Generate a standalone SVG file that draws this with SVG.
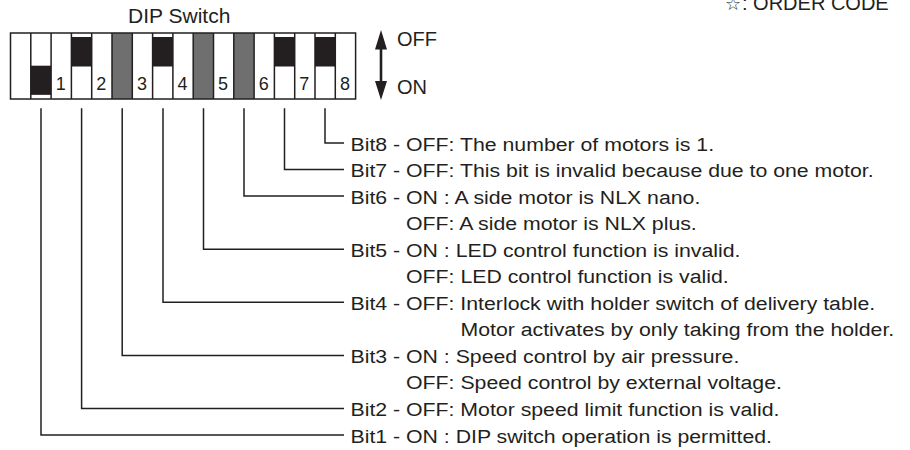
<svg xmlns="http://www.w3.org/2000/svg" width="910" height="450" viewBox="0 0 910 450">
<style>
  .t { font-family: "Liberation Sans", Arial, sans-serif; fill: #231f20; }
  .desc { font-size: 19px; }
  .num { font-size: 18px; text-anchor: middle; }
  .ln { stroke: #231f20; stroke-width: 1.5; fill: none; }
  .grey { fill: #6f6f6f; }
  .knob { fill: #231f20; }
</style>
<rect width="910" height="450" fill="#ffffff"/>

<text class="t" x="725" y="10" style="font-size:20px"><tspan style="font-family:'DejaVu Sans',sans-serif;font-size:18px">☆</tspan><tspan x="742">: ORDER CODE</tspan></text>

<g id="dip-switch">
  <text class="t" x="128" y="22.7" style="font-size:21px">DIP Switch</text>
  <rect x="10.5" y="33" width="345.1" height="66" fill="#ffffff"/>
  <rect class="grey" x="112" y="33" width="20.3" height="66"/>
  <rect class="grey" x="193.2" y="33" width="20.3" height="66"/>
  <rect class="grey" x="233.8" y="33" width="20.3" height="66"/>
  <g id="switch-1"><rect class="knob" x="30.8" y="65.7" width="20.3" height="28.6"/></g>
  <g id="switch-2"><rect class="knob" x="71.4" y="37.5" width="20.3" height="29"/></g>
  <g id="switch-4"><rect class="knob" x="152.6" y="37.5" width="20.3" height="29"/></g>
  <g id="switch-7"><rect class="knob" x="274.4" y="37.5" width="20.3" height="29"/></g>
  <g id="switch-8"><rect class="knob" x="315" y="37.5" width="20.3" height="29"/></g>
  <path class="ln" d="M30.8 33V99M51.1 33V99M71.4 33V99M91.7 33V99M112 33V99M132.3 33V99M152.6 33V99M172.9 33V99M193.2 33V99M213.5 33V99M233.8 33V99M254.1 33V99M274.4 33V99M294.7 33V99M315 33V99M335.3 33V99"/>
  <path class="ln" d="M30.8 94.3H51.1M71.4 37.5H91.7M152.6 37.5H172.9M274.4 37.5H294.7M315 37.5H335.3" style="stroke-width:1"/>
  <rect class="ln" x="10.5" y="33" width="345.1" height="66"/>
  <text class="t num" x="60.7" y="90">1</text>
  <text class="t num" x="101.3" y="90">2</text>
  <text class="t num" x="141.9" y="90">3</text>
  <text class="t num" x="182.5" y="90">4</text>
  <text class="t num" x="223.1" y="90">5</text>
  <text class="t num" x="263.7" y="90">6</text>
  <text class="t num" x="304.3" y="90">7</text>
  <text class="t num" x="344.9" y="90">8</text>
</g>

<g id="direction">
  <path d="M381 46V84" stroke="#231f20" stroke-width="2.6"/>
  <path d="M381 30L375 49.5H387Z M381 100L375 81H387Z" fill="#231f20"/>
  <text class="t" x="397" y="46" style="font-size:20px">OFF</text>
  <text class="t" x="397" y="94" style="font-size:20px">ON</text>
</g>

<g id="connectors">
  <path class="ln" d="M325 108.3V143H344"/>
  <path class="ln" d="M284.5 108.3V169.55H344"/>
  <path class="ln" d="M244 108.3V196.1H344"/>
  <path class="ln" d="M203.5 108.3V249.2H344"/>
  <path class="ln" d="M163 108.3V302.3H344"/>
  <path class="ln" d="M122.2 108.3V355.4H344"/>
  <path class="ln" d="M81.6 108.3V408.5H344"/>
  <path class="ln" d="M41 108.3V435.05H344"/>
</g>

<g id="label-bit8"><text class="t desc" transform="translate(350.5,150.5) scale(1.12,1)">Bit8 - OFF: The number of motors is 1.</text></g>
<g id="label-bit7"><text class="t desc" transform="translate(350.5,177.05) scale(1.12,1)">Bit7 - OFF: This bit is invalid because due to one motor.</text></g>
<g id="label-bit6">
  <text class="t desc" transform="translate(350.5,203.6) scale(1.12,1)">Bit6 - ON : A side motor is NLX nano.</text>
  <text class="t desc" transform="translate(350.5,230.15) scale(1.12,1)" x="49.6">OFF: A side motor is NLX plus.</text>
</g>
<g id="label-bit5">
  <text class="t desc" transform="translate(350.5,256.7) scale(1.12,1)">Bit5 - ON : LED control function is invalid.</text>
  <text class="t desc" transform="translate(350.5,283.25) scale(1.12,1)" x="49.6">OFF: LED control function is valid.</text>
</g>
<g id="label-bit4">
  <text class="t desc" transform="translate(350.5,309.8) scale(1.12,1)">Bit4 - OFF: Interlock with holder switch of delivery table.</text>
  <text class="t desc" transform="translate(350.5,336.35) scale(1.12,1)" x="98.2">Motor activates by only taking from the holder.</text>
</g>
<g id="label-bit3">
  <text class="t desc" transform="translate(350.5,362.9) scale(1.12,1)">Bit3 - ON : Speed control by air pressure.</text>
  <text class="t desc" transform="translate(350.5,389.45) scale(1.12,1)" x="49.6">OFF: Speed control by external voltage.</text>
</g>
<g id="label-bit2"><text class="t desc" transform="translate(350.5,416) scale(1.12,1)">Bit2 - OFF: Motor speed limit function is valid.</text></g>
<g id="label-bit1"><text class="t desc" transform="translate(350.5,442.55) scale(1.12,1)">Bit1 - ON : DIP switch operation is permitted.</text></g>
</svg>
